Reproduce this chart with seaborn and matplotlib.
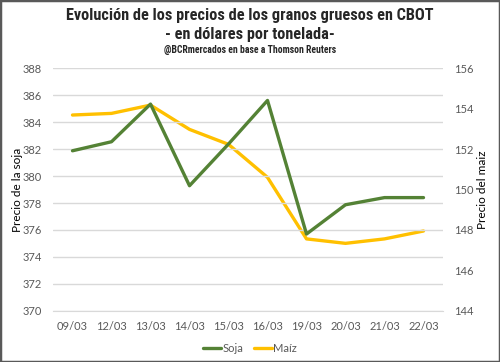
import matplotlib
matplotlib.use("Agg")
from matplotlib import pyplot as plt
from matplotlib.patches import Rectangle
from matplotlib.lines import Line2D
from matplotlib import font_manager
import pandas as pd
import seaborn as sns

# data
fechas = ["09/03", "12/03", "13/03", "14/03", "15/03", "16/03", "19/03", "20/03", "21/03", "22/03"]
soja = [381.87, 382.54, 385.33, 379.28, 382.37, 385.6, 375.7, 377.87, 378.4, 378.4]
maiz = [153.68, 153.76, 154.17, 152.97, 152.23, 150.6, 147.56, 147.34, 147.56, 147.95]

df = pd.DataFrame({"Fecha": fechas, "Soja": soja, "Maíz": maiz})

sns.set_style("white")
plt.rcParams['font.family'] = ['Lato', 'DejaVu Sans']

# narrow font for the title if one is installed
instaladas = {f.name for f in font_manager.fontManager.ttflist}
titulo = dict(family='DejaVu Sans', stretch='condensed', fontweight='bold')
t_size, s_size = 9.2, 5.9
for nombre in ['Roboto Condensed', 'Open Sans Condensed', 'Liberation Sans Narrow']:
    if nombre in instaladas:
        titulo = dict(family=nombre, fontweight='bold')
        t_size, s_size = 11.7, 7
        break

verde = "#548235"
amarillo = "#FFC000"
gris = "#595959"

fig = plt.figure(figsize=(5, 3.62), dpi=100)
ax = fig.add_axes([0.106, 0.141, 0.78, 0.671])
ax2 = ax.twinx()

sns.lineplot(data=df, x="Fecha", y="Soja", ax=ax, color=verde, linewidth=2.4, sort=False)
sns.lineplot(data=df, x="Fecha", y="Maíz", ax=ax2, color=amarillo, linewidth=2.4, sort=False)
ax2.set_zorder(ax.get_zorder() - 1)
ax.patch.set_visible(False)

ax.set_xlim(-0.5, len(fechas) - 0.5)
ax.set_ylim(370, 388)
ax.set_yticks(range(370, 389, 2))
ax2.set_ylim(144, 156)
ax2.set_yticks(range(144, 157, 2))

ax.yaxis.grid(True, color="#D9D9D9", linewidth=1)
ax.set_axisbelow(True)
for a in (ax, ax2):
    for s in a.spines.values():
        s.set_visible(False)
    a.tick_params(axis="y", length=0, labelsize=8, labelcolor=gris, pad=8)
ax.spines["bottom"].set_visible(True)
ax.spines["bottom"].set_color("#D9D9D9")
ax.tick_params(axis="x", length=0, labelsize=8, labelcolor=gris, pad=7)
ax.set_xticks([i - 0.5 for i in range(len(fechas) + 1)], minor=True)
ax.tick_params(axis="x", which="minor", length=4, color="#D9D9D9")

ax.set_xlabel("")
ax.set_ylabel("Precio de la soja", fontsize=8.5, color="black")
ax.yaxis.set_label_coords(-0.077, 0.5)
ax2.set_ylabel("Precio del maiz", fontsize=8.5, color="black", rotation=90)
ax2.yaxis.set_label_coords(1.087, 0.5)

handles = [Line2D([], [], color=verde, lw=2.4), Line2D([], [], color=amarillo, lw=2.4)]
fig.legend(handles, ["Soja", "Maíz"], loc="center", bbox_to_anchor=(0.5, 0.037), ncol=2,
           frameon=False, fontsize=8, handlelength=1.6, handletextpad=0.1, columnspacing=1.0,
           labelcolor=gris)

fig.text(0.5, 0.958, "Evolución de los precios de los granos gruesos en CBOT",
         ha="center", va="center", fontsize=t_size, **titulo)
fig.text(0.5, 0.906, "- en dólares por tonelada-",
         ha="center", va="center", fontsize=t_size, **titulo)
fig.text(0.5, 0.862, "@BCRmercados en base a Thomson Reuters",
         ha="center", va="center", fontsize=s_size, **titulo)

fig.patches.append(Rectangle((0, 0), 1, 1, transform=fig.transFigure, fill=False,
                             edgecolor="#595959", linewidth=2.5))

fig.savefig("out.png", dpi=100)
